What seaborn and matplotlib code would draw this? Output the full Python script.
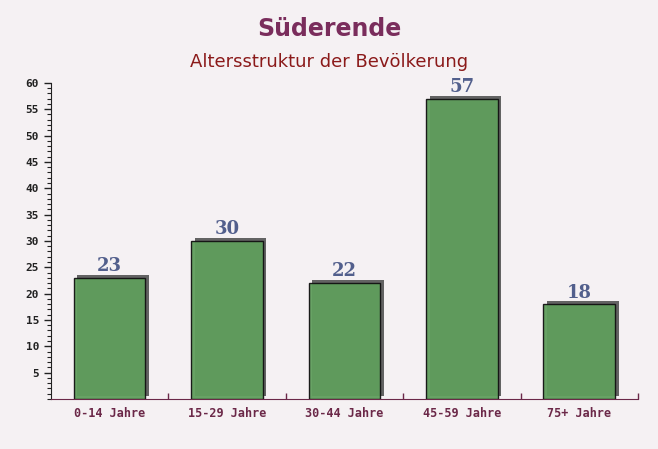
import pandas as pd
import seaborn as sns
import matplotlib.pyplot as plt
import matplotlib.patheffects as pe
from matplotlib.ticker import MultipleLocator

categories = ["0-14 Jahre", "15-29 Jahre", "30-44 Jahre", "45-59 Jahre", "75+ Jahre"]
values = [23, 30, 22, 57, 18]

df = pd.DataFrame({"Alter": categories, "Einwohner": values})

sns.set_style("white")
bg = "#f5f1f3"
fig = plt.figure(figsize=(6.58, 4.49), dpi=100, facecolor=bg)
ax = fig.add_axes([0.0775, 0.1114, 0.892, 0.704])
ax.set_facecolor(bg)

sns.barplot(data=df, x="Alter", y="Einwohner", color="#5f9e5c", width=0.61,
            edgecolor="#111111", linewidth=1.0, saturation=1, alpha=0.95, ax=ax)

# schmaler Schatten rechts/oben
for bar in ax.patches:
    bar.set_path_effects([pe.SimplePatchShadow(offset=(2.5, 2), shadow_rgbFace="#4a4a4a", alpha=0.85),
                          pe.Normal()])

for bar, v in zip(ax.patches, values):
    ax.text(bar.get_x() + bar.get_width() / 2, v + 0.5, str(v), ha="center", va="bottom",
            fontsize=13, fontweight="bold", family="DejaVu Serif", color="#525f8c")

ax.set_ylim(0, 60)
ax.set_xlim(-0.5, 4.5)
ax.yaxis.set_major_locator(MultipleLocator(5))
ax.yaxis.set_minor_locator(MultipleLocator(1))
ax.set_yticks([5, 10, 15, 20, 25, 30, 35, 40, 45, 50, 55, 60])
ax.set_xlabel("")
ax.set_ylabel("")

for s in ["top", "right"]:
    ax.spines[s].set_visible(False)
ax.spines["left"].set_color("#222222")
ax.spines["bottom"].set_color("#6b2848")

ax.tick_params(axis="y", which="major", length=5, width=1, color="#222222", direction="out",
               labelsize=8, labelcolor="#222222", left=True)
ax.tick_params(axis="y", which="minor", length=3, width=0.8, color="#222222", direction="out", left=True)
ax.tick_params(axis="x", length=0, labelsize=8.5, labelcolor="#6b2848", pad=6)
for lab in ax.get_yticklabels() + ax.get_xticklabels():
    lab.set_family("DejaVu Sans Mono")
    lab.set_fontweight("bold")

ax.set_xticks([0.5, 1.5, 2.5, 3.5, 4.5], minor=True)
ax.tick_params(axis="x", which="minor", length=4, width=1, color="#6b2848", direction="in", bottom=True)

fig.text(0.5, 0.935, "Süderende", ha="center", va="center", fontsize=17, fontweight="bold",
         color="#7a2d5c", family="DejaVu Sans")
fig.text(0.5, 0.862, "Altersstruktur der Bevölkerung", ha="center", va="center", fontsize=13,
         color="#8b1a1a", family="DejaVu Sans")

fig.savefig("out.png", dpi=100, facecolor=bg)
